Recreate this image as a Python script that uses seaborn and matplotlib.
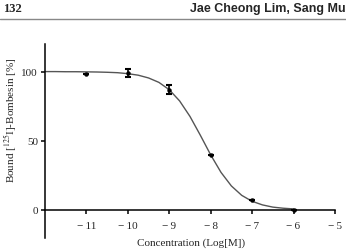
import seaborn as sns
import matplotlib.pyplot as plt
import matplotlib.lines as mlines
import pandas as pd

sns.set_theme(style="white")
plt.rcParams['font.family'] = ['Liberation Serif', 'DejaVu Serif']
plt.rcParams['mathtext.fontset'] = 'stix'

# measured points (log concentration, % bound, error)
conc = [-11, -10, -9, -8, -7, -6]
bound = [98, 99, 87, 40, 7, 0]
err = [0, 3, 3, 0, 0, 0]

# fitted curve
curve_x = [-12, -11.75, -11.5, -11.25, -11, -10.75, -10.5, -10.25, -10, -9.75,
           -9.5, -9.25, -9, -8.75, -8.5, -8.25, -8, -7.75, -7.5, -7.25,
           -7, -6.75, -6.5, -6.25, -6]
curve_y = [100, 100, 99.9, 99.9, 99.8, 99.7, 99.5, 99.2, 98.5, 97.4,
           95.4, 92.2, 86.9, 78.8, 67.6, 54.0, 39.8, 27.1, 17.3, 10.5,
           6.2, 3.6, 2.0, 1.2, 0.7]

x_ticks = [-11, -10, -9, -8, -7, -6, -5]
y_ticks = [0, 50, 100]

df_pts = pd.DataFrame({'conc': conc, 'bound': bound})
df_fit = pd.DataFrame({'x': curve_x, 'y': curve_y})

fig = plt.figure(figsize=(3.46, 2.51), dpi=100)
ax = fig.add_axes([0.130, 0.048, 0.838, 0.773])

sns.lineplot(data=df_fit, x='x', y='y', ax=ax, color='#555555', linewidth=1.0)
ax.errorbar(conc, bound, yerr=err, fmt='none', ecolor='black', elinewidth=1.2,
            capsize=2.5, capthick=1.5)
sns.scatterplot(data=df_pts, x='conc', y='bound', ax=ax, color='black', s=8,
                edgecolor='black', linewidth=0.3, zorder=5, clip_on=False)

ax.set_xlim(-12, -5)
ax.set_ylim(-20.3, 120)
ax.spines['bottom'].set_position(('data', 0))
ax.spines['top'].set_visible(False)
ax.spines['right'].set_visible(False)
for s in ['left', 'bottom']:
    ax.spines[s].set_color('black')
    ax.spines[s].set_linewidth(1.1)

ax.set_xticks(x_ticks)
ax.set_xticklabels(['\u2212\u2009%d' % abs(v) for v in x_ticks])
ax.set_yticks(y_ticks)
ax.tick_params(axis='both', direction='out', length=3, width=1.1, color='black',
               labelsize=8, pad=2, bottom=True, left=True)
ax.tick_params(axis='x', pad=5)

ax.set_xlabel('')
ax.set_ylabel('')
fig.text(0.552, 0.032, 'Concentration (Log[M])', ha='center', va='center', fontsize=8)
fig.text(0.03, 0.52, r'Bound [$^{125}$I]-Bombesin [%]', rotation=90,
         ha='center', va='center', fontsize=8)

# page header
fig.text(0.01, 0.965, '132', ha='left', va='center', fontsize=9, fontweight='bold')
fig.text(0.999, 0.965, 'Jae Cheong Lim, Sang Mu', ha='right', va='center',
         fontsize=9, fontweight='bold', family=['Liberation Sans', 'DejaVu Sans'])
fig.add_artist(mlines.Line2D([0, 1], [0.922, 0.922], color='#888888', linewidth=1.0,
                             transform=fig.transFigure))

fig.savefig('out.png', dpi=100)
